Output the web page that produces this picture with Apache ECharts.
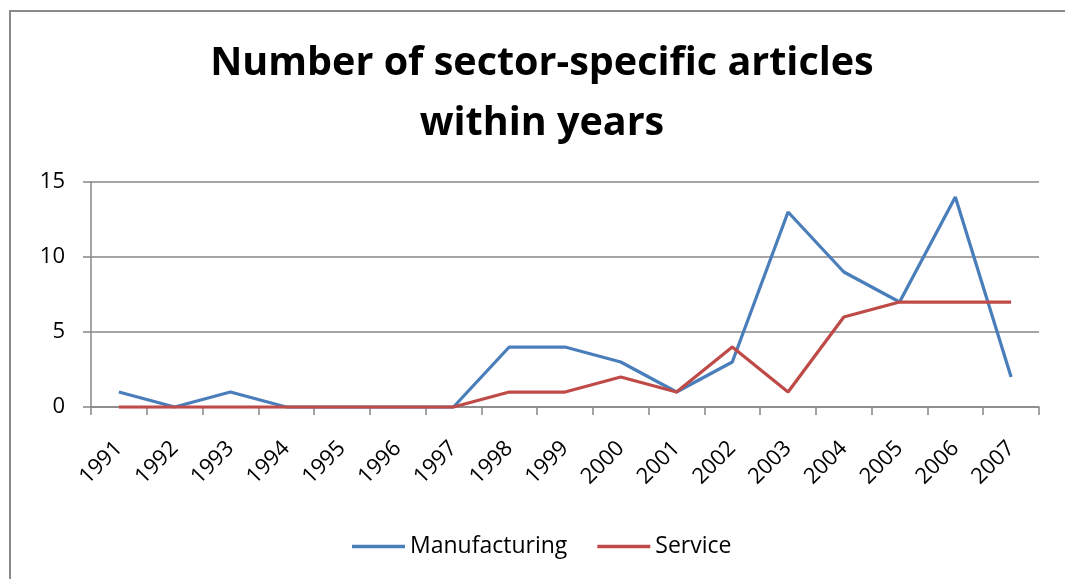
<!DOCTYPE html>
<html>
<head>
<meta charset="utf-8">
<script src="https://cdn.jsdelivr.net/npm/echarts@6/dist/echarts.min.js"></script>
<style>
  html, body { margin: 0; padding: 0; background: #fff; }
  #chart { width: 1065px; height: 579px; }
</style>
</head>
<body>
<div id="chart"></div>
<script>
// Article counts per year by sector
const years = ['1991', '1992', '1993', '1994', '1995', '1996', '1997', '1998', '1999',
  '2000', '2001', '2002', '2003', '2004', '2005', '2006', '2007'];
const manufacturing = [1, 0, 1, 0, 0, 0, 0, 4, 4, 3, 1, 3, 13, 9, 7, 14, 2];
const service = [0, 0, 0, 0, 0, 0, 0, 1, 1, 2, 1, 4, 1, 6, 7, 7, 7];
const yTicks = [0, 5, 10, 15];

const font = '"Open Sans", "Noto Sans", sans-serif';
const gridColor = '#878787';

const chart = echarts.init(document.getElementById('chart'), null, { renderer: 'canvas' });
chart.setOption({
  animation: false,
  backgroundColor: '#ffffff',
  title: {
    text: 'Number of sector-specific articles\nwithin years',
    left: 537,
    textAlign: 'center',
    top: 29,
    textStyle: {
      fontFamily: font,
      fontWeight: 'bold',
      fontSize: 39.5,
      lineHeight: 60,
      color: '#000'
    }
  },
  legend: {
    top: 530,
    left: 347,
    itemWidth: 53,
    itemHeight: 3.5,
    itemGap: 30,
    icon: 'rect',
    textStyle: { fontFamily: font, fontSize: 23, color: '#000' },
    data: ['Manufacturing', 'Service']
  },
  grid: { left: 91, right: 26, top: 182, bottom: 172, containLabel: false },
  xAxis: {
    type: 'category',
    data: years,
    boundaryGap: true,
    axisLine: { lineStyle: { color: gridColor, width: 1.5 } },
    axisTick: { show: true, length: 8, inside: false, lineStyle: { color: gridColor, width: 1.5 } },
    axisLabel: {
      rotate: 45,
      margin: 38,
      fontFamily: font,
      fontSize: 22,
      color: '#000',
      interval: 0
    }
  },
  yAxis: {
    type: 'value',
    min: yTicks[0],
    max: yTicks[yTicks.length - 1],
    interval: 5,
    axisLine: { show: true, lineStyle: { color: gridColor, width: 1.5 } },
    axisTick: { show: true, length: 8, lineStyle: { color: gridColor, width: 1.5 } },
    splitLine: { lineStyle: { color: gridColor, width: 1.5 } },
    axisLabel: {
      margin: 26,
      fontFamily: font,
      fontSize: 22,
      color: '#000'
    }
  },
  series: [
    {
      name: 'Manufacturing',
      type: 'line',
      data: manufacturing,
      symbol: 'none',
      color: '#4A7EBB',
      lineStyle: { width: 3.25, color: '#4A7EBB' }
    },
    {
      name: 'Service',
      type: 'line',
      data: service,
      symbol: 'none',
      color: '#BE4B48',
      lineStyle: { width: 3.25, color: '#BE4B48' }
    }
  ],
  graphic: [
    // outer frame (left and top edges are visible in the window)
    {
      type: 'polyline',
      shape: { points: [[10, 579], [10, 11], [1065, 11]] },
      style: { stroke: '#8a8a8a', lineWidth: 2, fill: null },
      silent: true
    }
  ]
});
</script>
</body>
</html>
